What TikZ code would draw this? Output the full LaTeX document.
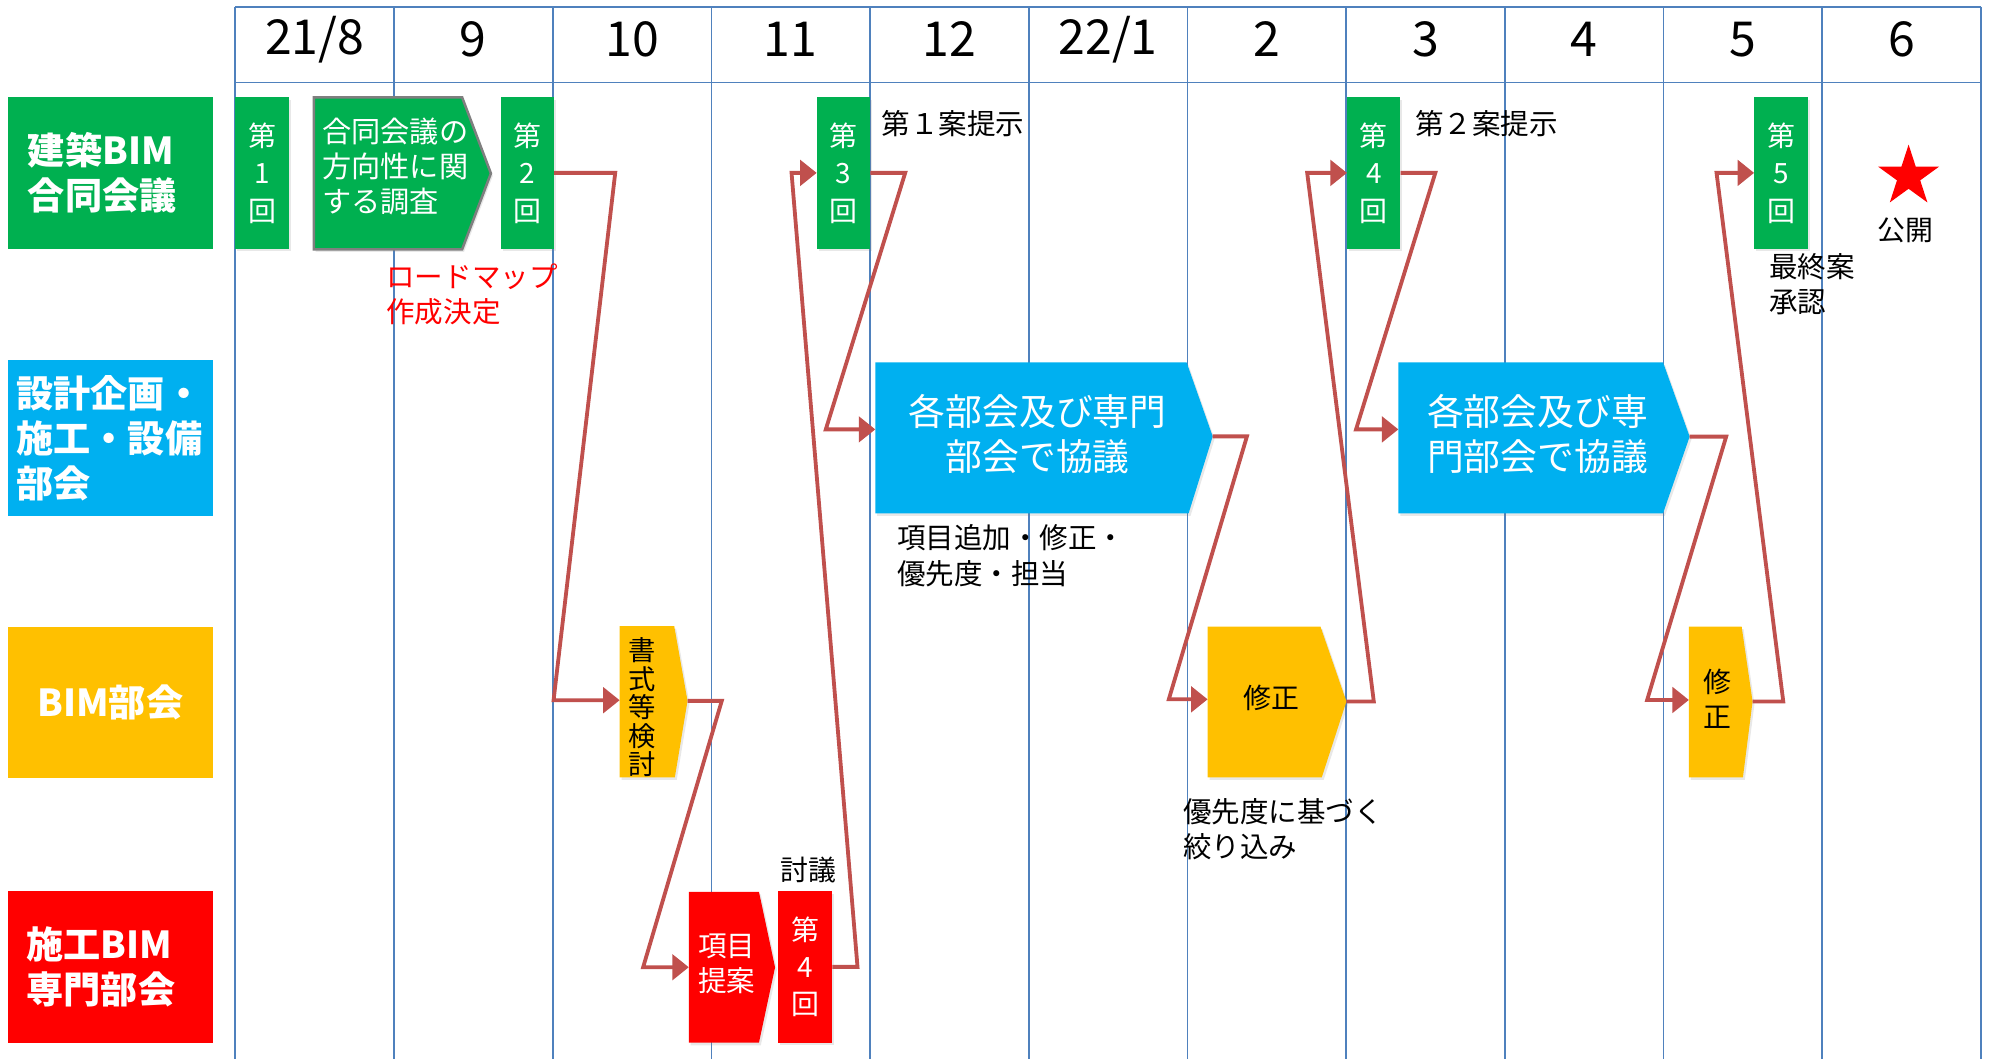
\documentclass[tikz,border=0pt]{standalone}
\usepackage{fontspec}
\newfontfamily\jp{Noto Sans CJK JP}
\usetikzlibrary{arrows.meta,shapes.geometric,shadows}
\definecolor{gridblue}{HTML}{4F81BD}
\definecolor{ggreen}{HTML}{00B050}
\definecolor{gblue}{HTML}{00B0F0}
\definecolor{gyellow}{HTML}{FFC000}
\definecolor{gred}{HTML}{FF0000}
\definecolor{conncol}{HTML}{C0504D}
\definecolor{pgray}{HTML}{7F7F7F}
\tikzset{
  gridline/.style={draw=gridblue, line width=1.3},
  hdr/.style={inner sep=0, font=\jp\fontsize{38}{40}\selectfont},
  rowlabel/.style={minimum width=162, minimum height=120, inner ysep=0, text=white, align=left,
    font=\jp\bfseries\fontsize{29.3}{35.5}\selectfont},
  sshadow/.style={drop shadow={opacity=0.18, shadow xshift=1.5pt, shadow yshift=-2pt}},
  kaibox/.style={minimum width=42, minimum height=119.5, inner sep=0, text=white, align=center,
    sshadow, font=\jp\fontsize{22}{29.5}\selectfont},
  shapetext/.style={inner sep=0, align=center, font=\jp\fontsize{22}{27.7}\selectfont},
  note/.style={inner sep=0, align=left, anchor=west, font=\jp\fontsize{22.5}{27.8}\selectfont},
  conn/.style={draw=conncol, line width=3, -{Triangle[length=13pt,width=20pt]}}
}
\begin{document}
\begin{tikzpicture}[x=1pt,y=-1pt]
\useasboundingbox (0,0) rectangle (1568,835);

% grid
\foreach \i in {0,...,11}
  \draw[gridline] ({185.5+125.1*\i},5.3) -- ({185.5+125.1*\i},835);
\draw[gridline] (185.5,5.3) -- (1561.6,5.3);
\draw[gridline] (185.5,64.9) -- (1561.6,64.9);

% header
\node[hdr] (h0) at (248.05,31) {21/8};
\node[hdr] (h1) at (373.15,31) {9};
\node[hdr] (h2) at (498.25,31) {10};
\node[hdr] (h3) at (623.35,31) {11};
\node[hdr] (h4) at (748.45,31) {12};
\node[hdr] (h5) at (873.55,31) {22/1};
\node[hdr] (h6) at (998.65,31) {2};
\node[hdr] (h7) at (1123.75,31) {3};
\node[hdr] (h8) at (1248.85,31) {4};
\node[hdr] (h9) at (1373.95,31) {5};
\node[hdr] (h10) at (1499.05,31) {6};

% row labels
\node[rowlabel, fill=ggreen, inner xsep=16, text width=130] (L1) at (87,136.5) {建築BIM\\合同会議};
\node[rowlabel, fill=gblue, minimum height=123, inner xsep=7, text width=148] (L2) at (87,345.5) {設計企画・\\施工・設備\\部会};
\node[rowlabel, fill=gyellow, minimum height=119, inner xsep=0, align=center] (L3) at (87,553.5) {BIM部会};
\node[rowlabel, fill=gred, minimum height=119.5, inner xsep=15, text width=132] (L4) at (87,762.2) {施工BIM\\専門部会};

% row 1
\node[kaibox, fill=ggreen] (n1) at (206.6,136.3) {第\\1\\回};
\fill[ggreen, draw=pgray, line width=2, sshadow] (247.4,76.7) -- (364.3,76.7) -- (387,136.7) -- (364.3,196.6) -- (247.4,196.6) -- cycle;
\node[inner sep=0, align=left, anchor=west, text=white, font=\jp\fontsize{23}{27.6}\selectfont] (p0) at (254,131.5) {合同会議の\\方向性に関\\する調査};
\node[kaibox, fill=ggreen] (n2) at (415.7,136.3) {第\\2\\回};
\node[kaibox, fill=ggreen] (n3) at (665,136.3) {第\\3\\回};
\node[kaibox, fill=ggreen] (n4) at (1083,136.3) {第\\4\\回};
\node[kaibox, fill=ggreen] (n5) at (1404,136.3) {第\\5\\回};

\node[note] (t1) at (694.7,97.2) {第１案提示};
\node[note] (t2) at (1115.5,97.2) {第２案提示};
\node[note, text=gred] (t3) at (304.4,232) {ロードマップ\\作成決定};
\node[note] (t4) at (1394.6,224) {最終案\\承認};
\node[star, star points=5, star point ratio=2.618, fill=gred, minimum size=50.4, inner sep=0] (star) at (1504.6,139.2) {};
\node[shapetext] (t5) at (1502,181.3) {公開};

% row 2
\fill[gblue, sshadow] (690,285.6) -- (935.4,285.6) -- (956,344) -- (937,404.7) -- (690,404.7) -- cycle;
\node[shapetext, text=white, font=\jp\fontsize{29}{35.5}\selectfont] (b1) at (818,342.3) {各部会及び専門\\部会で協議};
\fill[gblue, sshadow] (1102.4,285.6) -- (1311,285.6) -- (1332,344.2) -- (1311,404.7) -- (1102.4,404.7) -- cycle;
\node[shapetext, text=white, font=\jp\fontsize{29}{35.5}\selectfont] (b2) at (1212,342.3) {各部会及び専\\門部会で協議};
\node[note, font=\jp\fontsize{22.5}{28.5}\selectfont] (t6) at (707,438) {項目追加・修正・\\優先度・担当};

% row 3
\fill[gyellow, sshadow] (488.5,493.5) -- (531.5,493.5) -- (542,552.5) -- (532,612.8) -- (488.5,612.8) -- cycle;
\node[shapetext, font=\jp\fontsize{21.5}{22.5}\selectfont] (s1) at (506,557.5) {書\\式\\等\\検\\討};
\fill[gyellow, sshadow] (952,494) -- (1041,494) -- (1061.4,553) -- (1042,612.8) -- (952,612.8) -- cycle;
\node[shapetext] (m1) at (1002,550) {修正};
\fill[gyellow, sshadow] (1331.4,494) -- (1373,494) -- (1381.6,553) -- (1374,612.8) -- (1331.4,612.8) -- cycle;
\node[shapetext] (m2) at (1354,551) {修\\正};
\node[note] (t7) at (932.6,653.8) {優先度に基づく\\絞り込み};

% row 4
\fill[gred, sshadow] (543,703) -- (598.3,703) -- (611,762.6) -- (598.3,822) -- (543,822) -- cycle;
\node[shapetext, text=white, font=\jp\fontsize{22.5}{27.7}\selectfont] (r1) at (573,760) {項目\\提案};
\node[kaibox, fill=gred, minimum height=119.6, minimum width=42.6] (r4) at (634.7,762.2) {第\\4\\回};
\node[shapetext] (t8) at (637.5,685.8) {討議};

% connection points of the pointed shapes
\coordinate (s1in) at (488.5,552);
\coordinate (s1out) at (542,552.5);
\coordinate (r1in) at (543,762.5);
\coordinate (b1in) at (690,338.5);
\coordinate (b1out) at (956,344);
\coordinate (m1in) at (952,551.3);
\coordinate (m1out) at (1061.4,553);
\coordinate (b2in) at (1102.4,338.5);
\coordinate (b2out) at (1332,344.2);
\coordinate (m2in) at (1331.4,551.8);
\coordinate (m2out) at (1381.6,553);

% connectors
\draw[conn] (n2.east) -- (485,136.3) -- (436.4,552) -- (s1in);
\draw[conn] (s1out) -- (569,552.5) -- (507,762.5) -- (r1in);
\draw[conn] (r4.east) -- (676,762.2) -- (624,136.3) -- (n3.west);
\draw[conn] (n3.east) -- (713.6,136.3) -- (651,338.5) -- (b1in);
\draw[conn] (b1out) -- (983,344) -- (921.4,551.3) -- (m1in);
\draw[conn] (m1out) -- (1083,553) -- (1030.5,136.3) -- (n4.west);
\draw[conn] (n4.east) -- (1131.5,136.3) -- (1069,338.5) -- (b2in);
\draw[conn] (b2out) -- (1360.8,344.2) -- (1298.5,551.8) -- (m2in);
\draw[conn] (m2out) -- (1405.8,553) -- (1353.2,136.3) -- (n5.west);
\end{tikzpicture}
\end{document}
